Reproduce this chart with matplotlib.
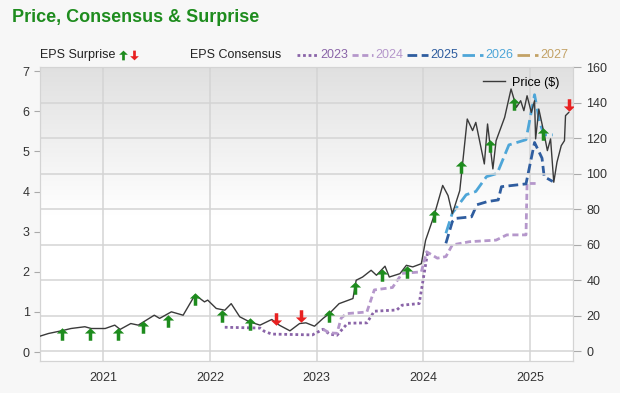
import matplotlib.pyplot as plt
import numpy as np
from matplotlib.path import Path
from matplotlib.lines import Line2D
from matplotlib.colors import LinearSegmentedColormap

plt.rcParams['font.family'] = ['Liberation Sans', 'DejaVu Sans']

# price (right axis), x in decimal years
price_x = [2020.41, 2020.49, 2020.61, 2020.70, 2020.83, 2020.89, 2021.02, 2021.11, 2021.16,
           2021.26, 2021.33, 2021.48, 2021.53, 2021.64, 2021.75, 2021.86, 2021.91, 2021.95,
           2021.98, 2022.06, 2022.14, 2022.20, 2022.28, 2022.37, 2022.47, 2022.58, 2022.65,
           2022.75, 2022.84, 2022.90, 2022.98, 2023.06, 2023.12, 2023.21, 2023.34, 2023.37,
           2023.43, 2023.51, 2023.56, 2023.64, 2023.68, 2023.78, 2023.84, 2023.90, 2023.98,
           2024.02, 2024.10, 2024.18, 2024.23, 2024.27, 2024.29, 2024.34, 2024.41, 2024.46,
           2024.49, 2024.57, 2024.60, 2024.65, 2024.68, 2024.76, 2024.82, 2024.87, 2024.91,
           2024.94, 2024.97, 2025.01, 2025.04, 2025.05, 2025.08, 2025.13, 2025.16, 2025.19,
           2025.22, 2025.25, 2025.29, 2025.32, 2025.33, 2025.36]
price_y = [8.4, 9.9, 11.4, 12.7, 13.7, 12.7, 12.7, 14.6, 12.2,
           15.5, 14.6, 20.2, 18.4, 22.1, 20.2, 31.5, 29.5, 27.7,
           28.7, 24.0, 23.0, 26.7, 19.3, 16.5, 14.6, 17.8, 14.6,
           11.4, 15.5, 15.9, 14.0, 18.4, 21.2, 26.7, 29.6, 39.9,
           41.7, 45.5, 42.7, 47.8, 41.7, 43.6, 48.3, 47.4, 49.2,
           62.4, 76.4, 93.3, 87.6, 77.4, 81.0, 90.4, 130.7, 124.2,
           128.8, 105.4, 127.9, 102.6, 118.5, 131.6, 147.6, 137.3, 141.0,
           135.4, 143.8, 134.4, 141.0, 119.5, 136.3, 122.3, 112.9, 119.5,
           95.1, 106.4, 115.7, 118.5, 132.6, 134.4]

# EPS consensus (left axis)
c2023_x = [2022.14, 2022.47, 2022.51, 2022.58, 2022.96, 2023.06, 2023.12, 2023.19, 2023.29,
           2023.47, 2023.54, 2023.75, 2023.80, 2023.96, 2024.04]
c2023_y = [0.62, 0.60, 0.52, 0.45, 0.43, 0.57, 0.45, 0.42, 0.72,
           0.73, 1.02, 1.05, 1.17, 1.21, 2.50]
c2024_x = [2023.06, 2023.12, 2023.19, 2023.23, 2023.28, 2023.47, 2023.54, 2023.71, 2023.80,
           2023.98, 2024.03, 2024.13, 2024.21, 2024.27, 2024.43, 2024.68, 2024.78, 2024.96,
           2024.97, 2025.05]
c2024_y = [0.57, 0.48, 0.47, 0.85, 0.96, 1.00, 1.55, 1.61, 1.96,
           2.00, 2.50, 2.34, 2.38, 2.67, 2.75, 2.79, 2.92, 2.92,
           4.20, 4.20]
c2025_x = [2024.21, 2024.27, 2024.30, 2024.45, 2024.50, 2024.60, 2024.70, 2024.73, 2024.96,
           2025.04, 2025.11, 2025.13, 2025.21]
c2025_y = [2.71, 3.25, 3.33, 3.37, 3.67, 3.75, 3.79, 4.12, 4.19,
           5.22, 4.83, 4.37, 4.25]
c2026_x = [2024.21, 2024.27, 2024.40, 2024.49, 2024.59, 2024.69, 2024.80, 2024.96, 2025.04,
           2025.09, 2025.13, 2025.21]
c2026_y = [2.96, 3.46, 3.92, 4.00, 4.37, 4.45, 5.16, 5.29, 6.41,
           5.70, 5.41, 5.41]

# EPS surprise arrows (left axis)
surp_x = [2020.62, 2020.88, 2021.14, 2021.37, 2021.61, 2021.86, 2022.11, 2022.38, 2022.62,
          2022.85, 2023.12, 2023.36, 2023.61, 2023.85, 2024.10, 2024.35, 2024.62, 2024.85,
          2025.12, 2025.36]
surp_y = [0.45, 0.45, 0.45, 0.62, 0.77, 1.32, 0.90, 0.70, 0.82,
          0.90, 0.90, 1.60, 1.92, 2.00, 3.39, 4.61, 5.14, 6.18,
          5.44, 6.16]
surp_up = [1, 1, 1, 1, 1, 1, 1, 1, 0,
           0, 1, 1, 1, 1, 1, 1, 1, 1,
           1, 0]

years = ['2023', '2024', '2025', '2026', '2027']
year_colors = ['#8a64a8', '#b597cb', '#2f5d9f', '#4ea6d8', '#c3a266']
year_styles = [(0, (1, 1)), (0, (2.2, 1.3)), (0, (3.5, 1.6)), (0, (4.5, 1.8)), (0, (4.5, 1.8))]

green = '#1e8c1e'
red = '#e82020'

up_arrow = Path([(0, 1), (0.9, 0.15), (0.28, 0.15), (0.28, -1), (-0.28, -1), (-0.28, 0.15), (-0.9, 0.15), (0, 1)],
                [Path.MOVETO] + [Path.LINETO] * 6 + [Path.CLOSEPOLY])
down_arrow = Path([(0, -1), (0.9, -0.15), (0.28, -0.15), (0.28, 1), (-0.28, 1), (-0.28, -0.15), (-0.9, -0.15), (0, -1)],
                  [Path.MOVETO] + [Path.LINETO] * 6 + [Path.CLOSEPOLY])

fig = plt.figure(figsize=(6.2, 3.93), dpi=100, facecolor='#f7f7f7')
ax = fig.add_axes([40 / 620, 1 - 361 / 393, 533 / 620, 294 / 393])
ax2 = ax.twinx()

# background gradient: grey at the top fading to white around the middle
grad = np.clip(1 - np.linspace(0, 1, 256) * 2.0, 0, 1).reshape(-1, 1)
cmap = LinearSegmentedColormap.from_list('bg', ['#ffffff', '#e0e0e0'])
ax.imshow(grad, aspect='auto', cmap=cmap, vmin=0, vmax=1,
          extent=[2020.41, 2025.40, -0.22, 7.1], origin='upper', zorder=0)

ax.set_xlim(2020.41, 2025.40)
ax.set_ylim(-0.22, 7.1)
ax2.set_ylim(-5.6, 159.6)

# grid along price axis
for v in range(0, 161, 20):
    ax2.axhline(v, color='#d4d4d4', lw=1.1, zorder=0)
for yr in range(2021, 2026):
    ax.axvline(yr, color='#d4d4d4', lw=1.1, zorder=0.5)

for c_x, c_y, col, ls in zip([c2023_x, c2024_x, c2025_x, c2026_x], [c2023_y, c2024_y, c2025_y, c2026_y],
                             year_colors, year_styles):
    ax.plot(c_x, c_y, color=col, lw=2, linestyle=ls, zorder=2)

ax2.plot(price_x, price_y, color='#3a3a3a', lw=1.0, zorder=3)

ax2.set_zorder(ax.get_zorder() + 1)
ax2.patch.set_visible(False)
ax.patch.set_visible(False)

sx = np.array(surp_x)
sy = np.array(surp_y)
su = np.array(surp_up, dtype=bool)
# arrows drawn on the top axes so they sit above the price line
tr = ax.transData
ax2.plot(sx[su], sy[su], linestyle='none', marker=up_arrow, markersize=9, color=green,
         markeredgewidth=0, transform=tr, zorder=4)
ax2.plot(sx[~su], sy[~su], linestyle='none', marker=down_arrow, markersize=9, color=red,
         markeredgewidth=0, transform=tr, zorder=4)

ax.set_xticks(range(2021, 2026))
ax.set_xticklabels([str(y) for y in range(2021, 2026)])
ax.set_yticks(range(0, 8))
ax2.set_yticks(range(0, 161, 20))
for a in (ax, ax2):
    a.tick_params(labelsize=9, colors='#333333', length=4, width=0.8)
    for s in a.spines.values():
        s.set_color('#d4d4d4')
ax.tick_params(axis='x', length=0, pad=8)
ax.tick_params(axis='y', colors='#aaaaaa', labelcolor='#333333')
ax2.tick_params(axis='y', colors='#aaaaaa', labelcolor='#333333', length=6)

# price legend
ax2.legend([Line2D([], [], color='#3a3a3a', lw=1.0)], ['Price ($)'], loc='upper right',
           frameon=False, fontsize=9, handlelength=1.8, handletextpad=0.5,
           bbox_to_anchor=(0.995, 1.005))

fig.text(12 / 620, 1 - 18 / 393, 'Price, Consensus & Surprise', fontsize=13, fontweight='bold',
         color=green, va='center', ha='left')

ly = 1 - 55 / 393
fig.text(40 / 620, ly, 'EPS Surprise', fontsize=9, color='#222222', va='center')
fig.lines.append(Line2D([123 / 620], [ly], marker=up_arrow, markersize=7, color=green,
                        markeredgewidth=0, linestyle='none', transform=fig.transFigure))
fig.lines.append(Line2D([134 / 620], [ly], marker=down_arrow, markersize=7, color=red,
                        markeredgewidth=0, linestyle='none', transform=fig.transFigure))
fig.text(190 / 620, ly, 'EPS Consensus', fontsize=9, color='#222222', va='center')
x0 = 297
for yr, col, ls in zip(years, year_colors, year_styles):
    fig.lines.append(Line2D([x0 / 620, (x0 + 21) / 620], [ly, ly], color=col, lw=2, linestyle=ls,
                            transform=fig.transFigure))
    fig.text((x0 + 23) / 620, ly, yr, fontsize=9, color=col, va='center')
    x0 += 55

fig.savefig('out.png', dpi=100, facecolor=fig.get_facecolor())
